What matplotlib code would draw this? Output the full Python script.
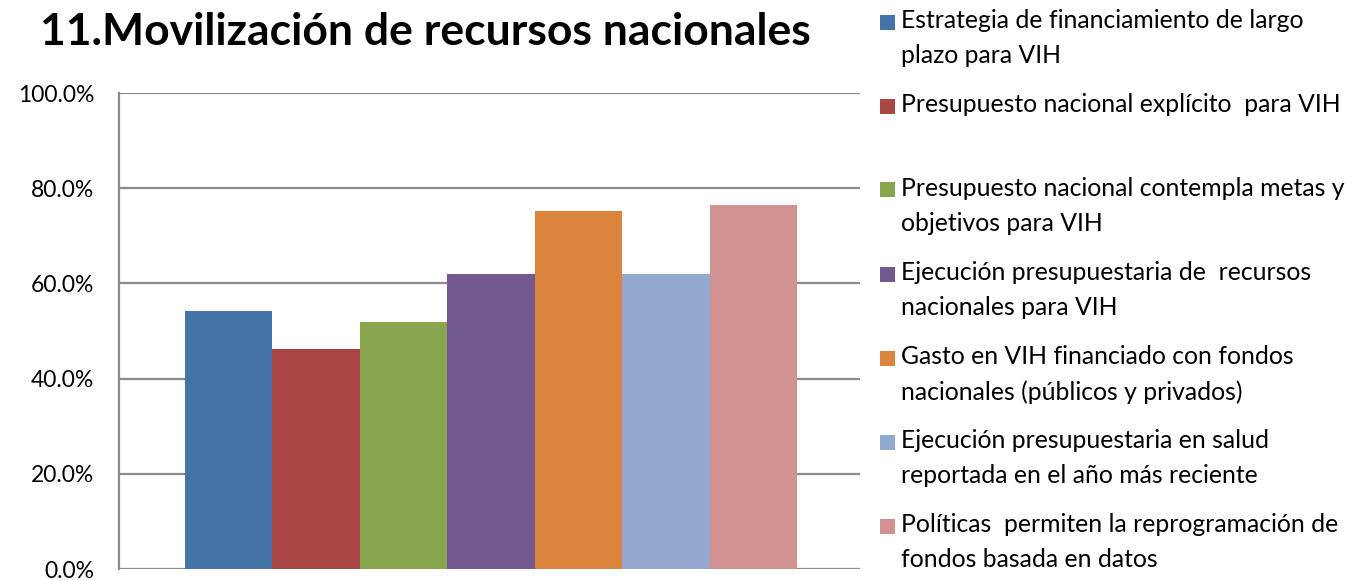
import matplotlib
matplotlib.use("Agg")
import matplotlib.pyplot as plt
from matplotlib.patches import Rectangle
from matplotlib.ticker import FuncFormatter

plt.rcParams['font.family'] = ['Lato', 'DejaVu Sans']

title = "11.Movilización de recursos nacionales"
series_labels = [
    "Estrategia de financiamiento de largo\nplazo para VIH",
    "Presupuesto nacional explícito  para VIH",
    "Presupuesto nacional contempla metas y\nobjetivos para VIH",
    "Ejecución presupuestaria de  recursos\nnacionales para VIH",
    "Gasto en VIH financiado con fondos\nnacionales (públicos y privados)",
    "Ejecución presupuestaria en salud\nreportada en el año más reciente",
    "Políticas  permiten la reprogramación de\nfondos basada en datos",
]
values = [54.3, 46.3, 51.8, 61.9, 75.2, 61.9, 76.5]
colors = ["#4572A7", "#AA4643", "#89A54E", "#71588F", "#DB843D", "#93A9CF", "#D19392"]
yticks = [0, 20, 40, 60, 80, 100]

W, H = 1352, 580
fig = plt.figure(figsize=(W / 100, H / 100), dpi=100)
ax = fig.add_axes([119 / W, 11 / H, (860 - 119) / W, (569 - 93) / H])

n = len(values)
bw = 87.5 / 741
start = -n * bw / 2 + bw / 2
for i, (v, c) in enumerate(zip(values, colors)):
    ax.bar(start + i * bw + 0.002, v, width=bw, color=c, zorder=3)

ax.set_xlim(-0.5, 0.5)
ax.set_ylim(0, 100)
ax.set_yticks(yticks)
ax.yaxis.set_major_formatter(FuncFormatter(lambda v, p: f"{v:.1f}%"))
ax.tick_params(axis='y', length=0, pad=18, labelsize=16.5, colors='black')
ax.set_xticks([])
ax.grid(axis='y', color='#8c8c8c', linewidth=1.6, zorder=0)
for s in ['top', 'right', 'bottom']:
    ax.spines[s].set_visible(False)
ax.spines['left'].set_color('#8c8c8c')
ax.spines['left'].set_linewidth(1.6)

fig.text(425 / W, 1 - 32 / H, title, fontsize=32, fontweight='bold',
         ha='center', va='center')

# legend, entries evenly spaced, handle aligned with first line
first_y = 22
step = 84
for i, (lab, c) in enumerate(zip(series_labels, colors)):
    yc = first_y + i * step
    fig.patches.append(Rectangle((880 / W, 1 - (yc + 7.5) / H), 15 / W, 15 / H,
                                 transform=fig.transFigure, facecolor=c,
                                 edgecolor='none'))
    fig.text(901 / W, 1 - (yc - 13) / H, lab, fontsize=17.8, ha='left', va='top',
             linespacing=1.65)

fig.savefig("out.png", dpi=100)
